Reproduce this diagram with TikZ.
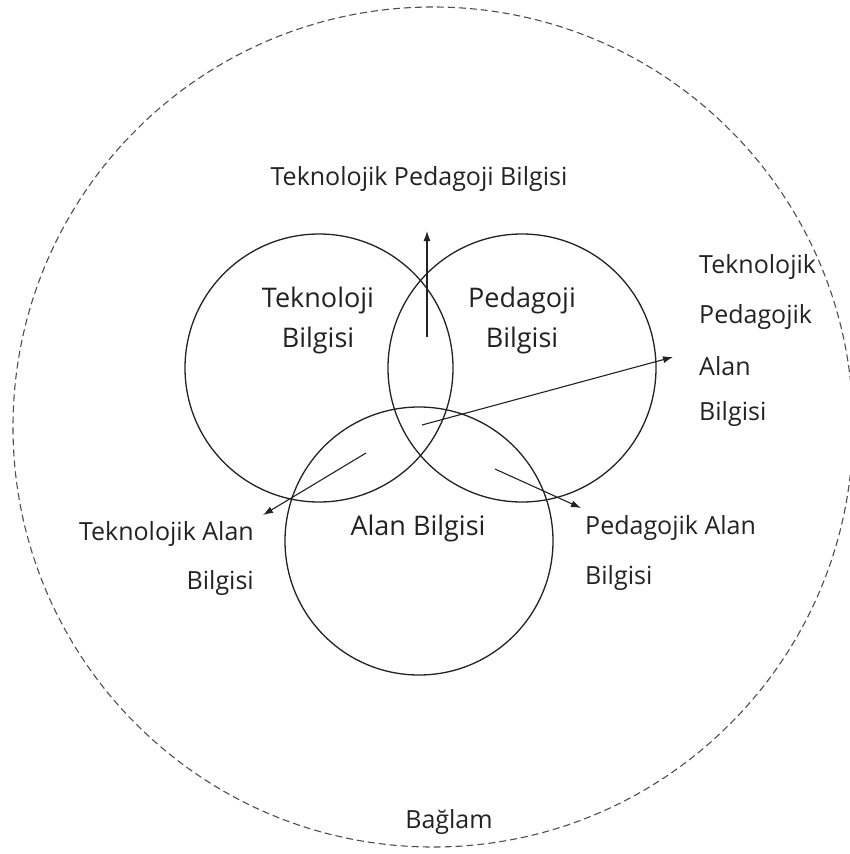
\documentclass[tikz,border=0pt]{standalone}
\usepackage{fontspec}
\setmainfont{Open Sans}
\usetikzlibrary{arrows.meta}
\definecolor{ink}{HTML}{222222}
\begin{document}
\begin{tikzpicture}[x=1pt,y=-1pt,
  ring/.style={circle,draw=ink,line width=1.3pt,minimum size=268pt,inner sep=0pt},
  outer/.style={circle,draw=ink!80,line width=1.1pt,dash pattern=on 7pt off 4pt,minimum size=840pt,inner sep=0pt},
  big/.style={font=\fontsize{27}{40}\selectfont,text=ink,align=center},
  lab/.style={font=\fontsize{25}{28}\selectfont,text=ink,inner sep=0pt},
  arr/.style={draw=ink,line width=1.1pt,-{Latex[length=10pt,width=7pt]}}]
\useasboundingbox (0,0) rectangle (850,854);
\node[outer] (ctx) at (433,427) {};
\node[ring] (tk) at (319,368) {};
\node[ring] (pk) at (522,368) {};
\node[ring] (ck) at (419,541) {};
\node[big] (tkl) at (318,320) {Teknoloji\\Bilgisi};
\node[big] (pkl) at (522,320) {Pedagoji\\Bilgisi};
\node[big] (ckl) at (418,528) {Alan Bilgisi};
\node[lab] (tpk) at (419,179) {Teknolojik Pedagoji Bilgisi};
\node[lab,anchor=west] (tpck1) at (699,267) {Teknolojik};
\node[lab,anchor=west] (tpck2) at (699,317) {Pedagojik};
\node[lab,anchor=west] (tpck3) at (699,366) {Alan};
\node[lab,anchor=west] (tpck4) at (699,414) {Bilgisi};
\node[lab,anchor=east] (tck1) at (254,534) {Teknolojik Alan};
\node[lab,anchor=east] (tck2) at (254,583) {Bilgisi};
\node[lab,anchor=west] (pck1) at (585,528) {Pedagojik Alan};
\node[lab,anchor=west] (pck2) at (585,578) {Bilgisi};
\node[lab] (ctxl) at (449,822) {Bağlam};
\coordinate (a1s) at (427,337);
\coordinate (a1e) at (427,231);
\coordinate (a2s) at (422,425);
\coordinate (a2e) at (673,357);
\coordinate (a3s) at (366,453);
\coordinate (a3e) at (263,515);
\coordinate (a4s) at (495,469);
\coordinate (a4e) at (581,508);
\draw[arr] (a1s) -- (a1e);
\draw[arr] (a2s) -- (a2e);
\draw[arr] (a3s) -- (a3e);
\draw[arr] (a4s) -- (a4e);
\end{tikzpicture}
\end{document}
